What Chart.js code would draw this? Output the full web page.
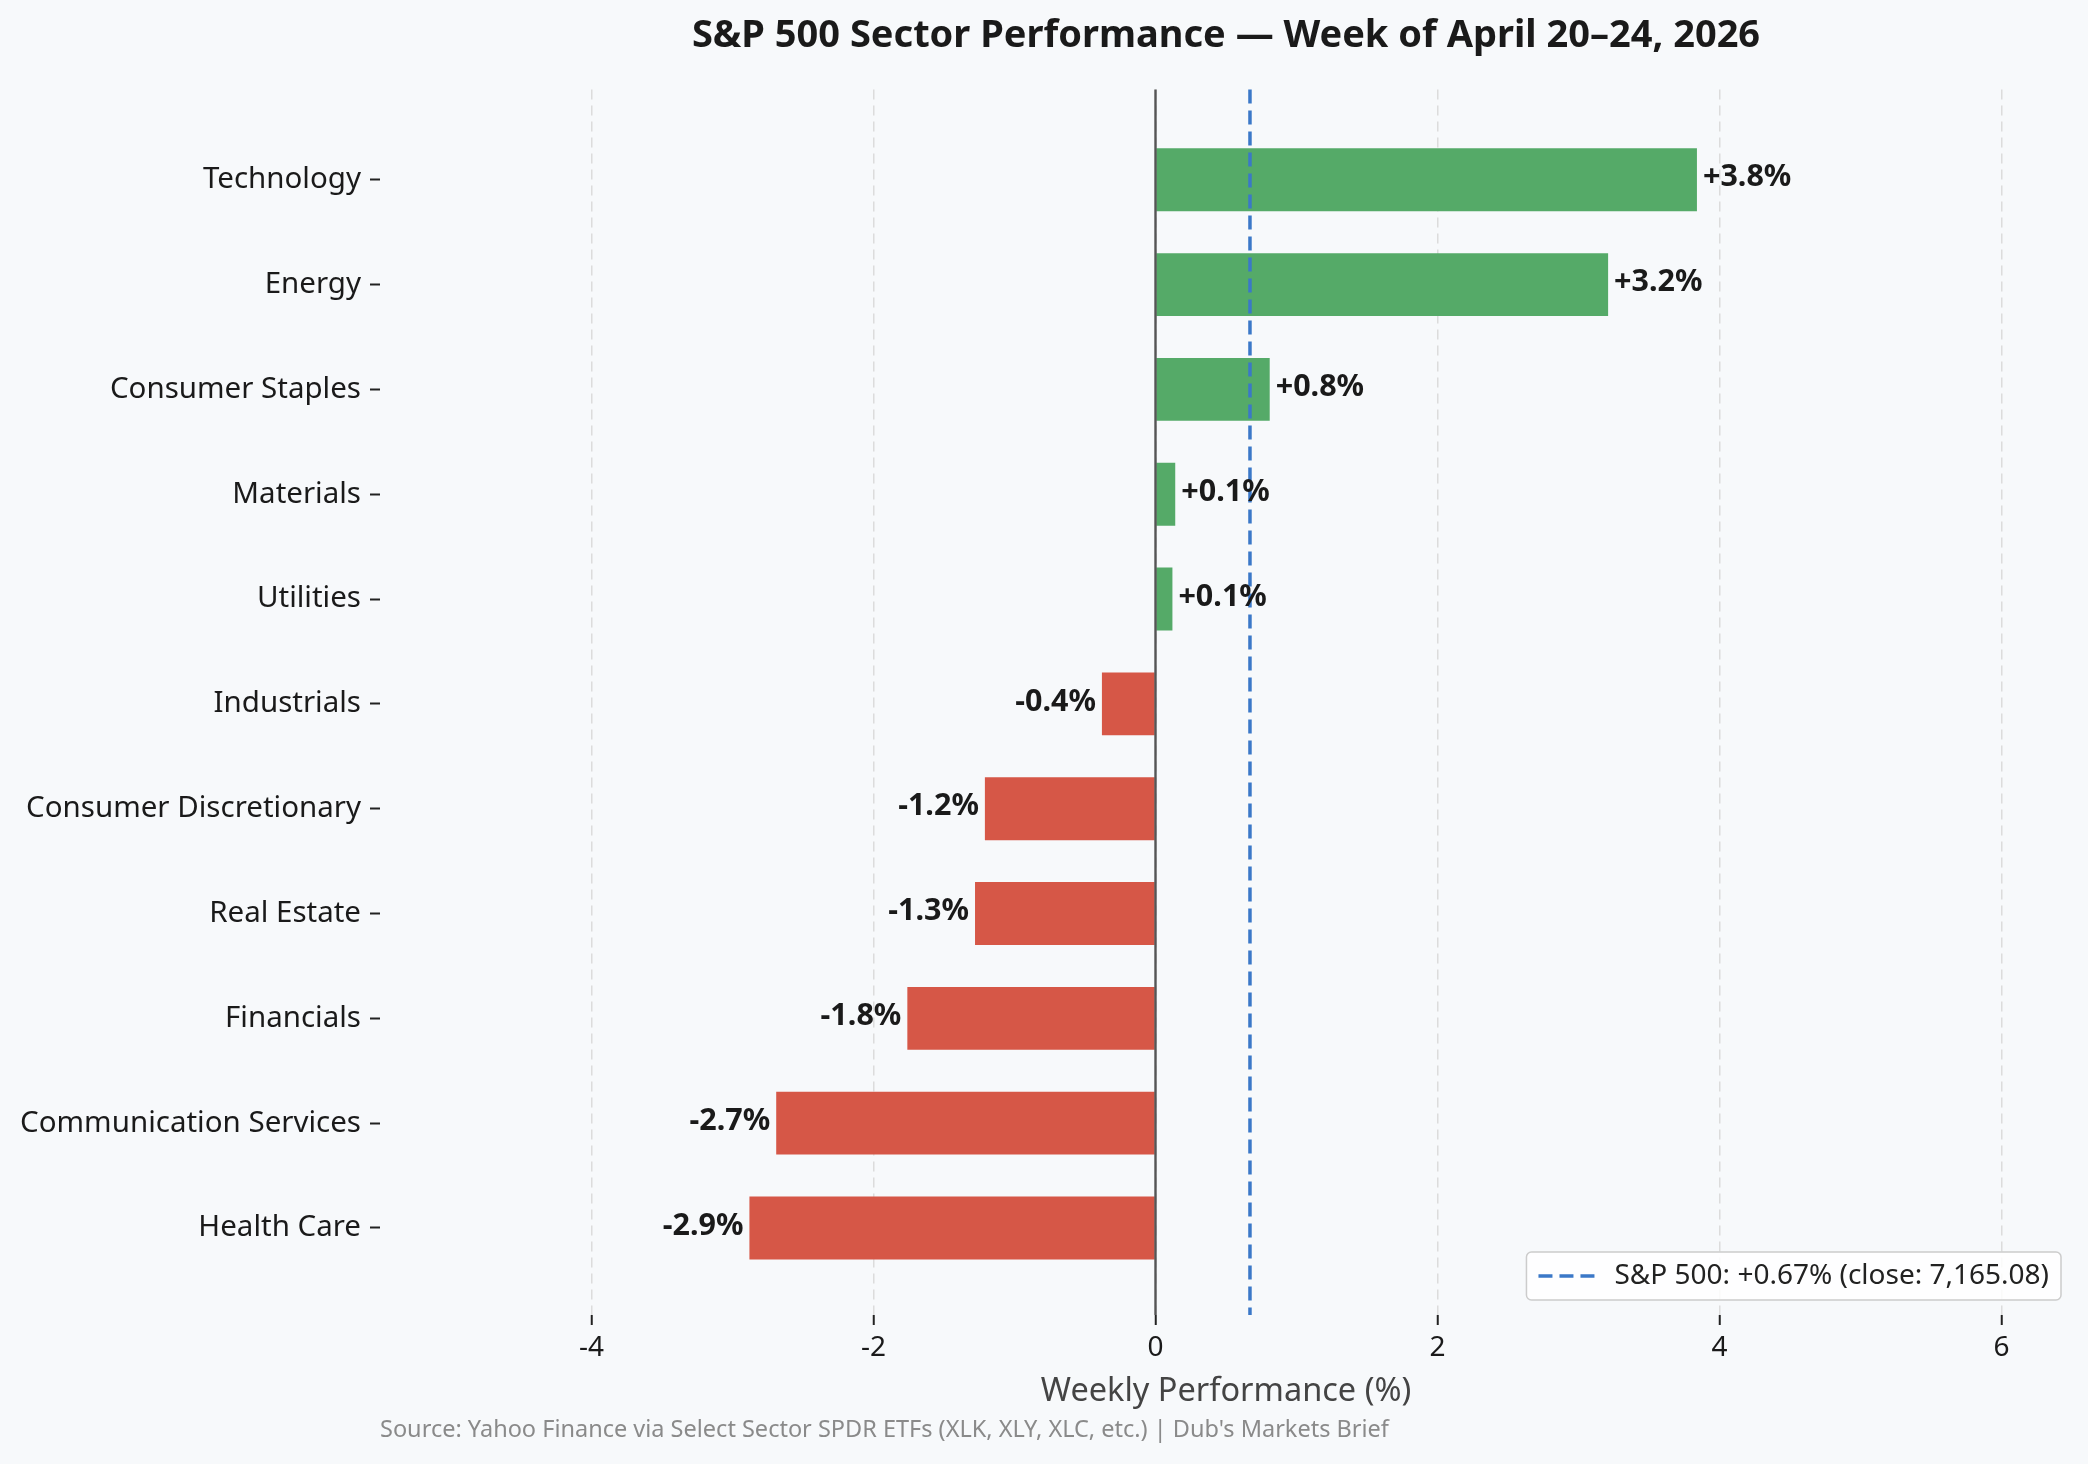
<!DOCTYPE html>
<html><head><meta charset="utf-8">
<script src="https://cdn.jsdelivr.net/npm/chart.js@4.4.1/dist/chart.umd.min.js"></script>
<style>html,body{margin:0;padding:0;background:#f7f9fb;overflow:hidden;}</style>
</head><body>
<canvas id="c" width="2088" height="1464"></canvas>
<script>
// ---- data ----
const sectors = ["Technology","Energy","Consumer Staples","Materials","Utilities","Industrials","Consumer Discretionary","Real Estate","Financials","Communication Services","Health Care"];
const weeklyChange = [3.84, 3.21, 0.81, 0.14, 0.12, -0.38, -1.21, -1.28, -1.76, -2.69, -2.88];
const sp500Change = 0.67;
const sp500Close = 7165.08;
const xTickValues = [-4, -2, 0, 2, 4, 6];
const titleText = "S&P 500 Sector Performance \u2014 Week of April 20\u201324, 2026";
const xAxisTitle = "Weekly Performance (%)";
const sourceText = "Source: Yahoo Finance via Select Sector SPDR ETFs (XLK, XLY, XLC, etc.) | Dub's Markets Brief";

// ---- style ----
const FONT = "'Noto Sans', 'DejaVu Sans', sans-serif";
const GREEN = "#55aa68";
const RED = "#d65747";
const SP_BLUE = "#3b78c8";

const barData = sectors.map((s, i) => ({x: weeklyChange[i], y: i}));

const overlay = {
  id: 'overlay',
  afterDatasetsDraw(chart) {
    const ctx = chart.ctx, xs = chart.scales.x, a = chart.chartArea;
    ctx.save();
    const x0 = xs.getPixelForValue(0);
    ctx.strokeStyle = '#555555'; ctx.lineWidth = 2.4; ctx.setLineDash([]);
    ctx.beginPath(); ctx.moveTo(x0, a.top); ctx.lineTo(x0, a.bottom); ctx.stroke();
    const xsp = xs.getPixelForValue(sp500Change);
    ctx.strokeStyle = SP_BLUE; ctx.lineWidth = 3.5; ctx.setLineDash([14, 7]);
    ctx.beginPath(); ctx.moveTo(xsp, a.top); ctx.lineTo(xsp, a.bottom); ctx.stroke();
    ctx.setLineDash([]);
    const meta = chart.getDatasetMeta(0);
    ctx.font = "bold 30.5px " + FONT;
    ctx.fillStyle = '#1a1a1a';
    ctx.textBaseline = 'middle';
    meta.data.forEach((el, i) => {
      const v = weeklyChange[i];
      const txt = (v >= 0 ? '+' : '') + v.toFixed(1) + '%';
      if (v >= 0) { ctx.textAlign = 'left'; ctx.fillText(txt, el.x + 6, el.y - 2); }
      else { ctx.textAlign = 'right'; ctx.fillText(txt, el.x - 6, el.y - 2); }
    });
    ctx.restore();
  },
  afterDraw(chart) {
    const ctx = chart.ctx, a = chart.chartArea;
    ctx.save();
    const label = "S&P 500: +" + sp500Change.toFixed(2) + "% (close: " +
      sp500Close.toLocaleString('en-US', {minimumFractionDigits: 2, maximumFractionDigits: 2}) + ")";
    ctx.font = "28px " + FONT;
    const tw = ctx.measureText(label).width;
    const boxH = 48, padL = 12, lineW = 56, gap = 20, padR = 12;
    const boxW = padL + lineW + gap + tw + padR;
    const bx = a.right - 11 - boxW, by = a.bottom - 15 - boxH;
    ctx.fillStyle = 'rgba(255,255,255,0.85)';
    ctx.strokeStyle = '#cccccc'; ctx.lineWidth = 1.5;
    ctx.beginPath();
    if (ctx.roundRect) ctx.roundRect(bx, by, boxW, boxH, 5); else ctx.rect(bx, by, boxW, boxH);
    ctx.fill(); ctx.stroke();
    const cy = by + boxH / 2;
    ctx.strokeStyle = SP_BLUE; ctx.lineWidth = 3.5; ctx.setLineDash([14, 7]);
    ctx.beginPath(); ctx.moveTo(bx + padL, cy); ctx.lineTo(bx + padL + lineW, cy); ctx.stroke();
    ctx.setLineDash([]);
    ctx.fillStyle = '#222222'; ctx.textAlign = 'left'; ctx.textBaseline = 'middle';
    ctx.fillText(label, bx + padL + lineW + gap, cy);
    ctx.font = "23.5px " + FONT;
    ctx.fillStyle = '#8a8a8a';
    ctx.fillText(sourceText, a.left, 1430);
    ctx.restore();
  }
};

new Chart(document.getElementById('c'), {
  type: 'bar',
  data: {
    datasets: [{
      label: 'Weekly change',
      data: barData,
      backgroundColor: weeklyChange.map(v => v >= 0 ? GREEN : RED),
      borderWidth: 0,
      categoryPercentage: 1,
      barPercentage: 0.6
    }]
  },
  options: {
    indexAxis: 'y',
    responsive: false,
    animation: false,
    devicePixelRatio: 1,
    layout: {padding: {left: 0, right: 16, top: 0, bottom: 0}},
    plugins: {
      legend: {display: false},
      tooltip: {enabled: false},
      title: {
        display: true, fullSize: false, text: titleText, color: '#1a1a1a',
        font: {family: FONT, size: 38, weight: 'bold'},
        padding: {top: 13, bottom: 31}
      }
    },
    scales: {
      x: {
        type: 'linear', position: 'bottom', bounds: 'data', offset: false,
        min: -5.5, max: 6.5,
        afterBuildTicks(s) { s.ticks = xTickValues.map(v => ({value: v})); },
        ticks: {color: '#1a1a1a', font: {family: FONT, size: 28}, padding: 6},
        grid: {offset: false, color: '#dcdcdc', lineWidth: 1.5, drawTicks: true, tickLength: 10, tickColor: '#222222', tickWidth: 2, tickBorderDash: []},
        border: {display: false, dash: [10, 6]},
        title: {display: true, text: xAxisTitle, color: '#444444', font: {family: FONT, size: 32.5}, padding: {top: 0, bottom: 53}},
        afterFit(s) { s.height = 149; }
      },
      y: {
        type: 'linear', reverse: true, bounds: 'data', offset: false,
        min: -0.86, max: 10.83,
        afterBuildTicks(s) { s.ticks = sectors.map((c, i) => ({value: i})); },
        ticks: {
          color: '#1a1a1a', font: {family: FONT, size: 29.5}, padding: 9,
          callback: v => sectors[v] !== undefined ? sectors[v] : ''
        },
        grid: {offset: false, drawOnChartArea: false, drawTicks: true, tickLength: 10, tickColor: '#222222', tickWidth: 2},
        border: {display: false},
        afterFit(s) { s.width = 380; }
      }
    }
  },
  plugins: [overlay]
});
</script>
</body></html>
